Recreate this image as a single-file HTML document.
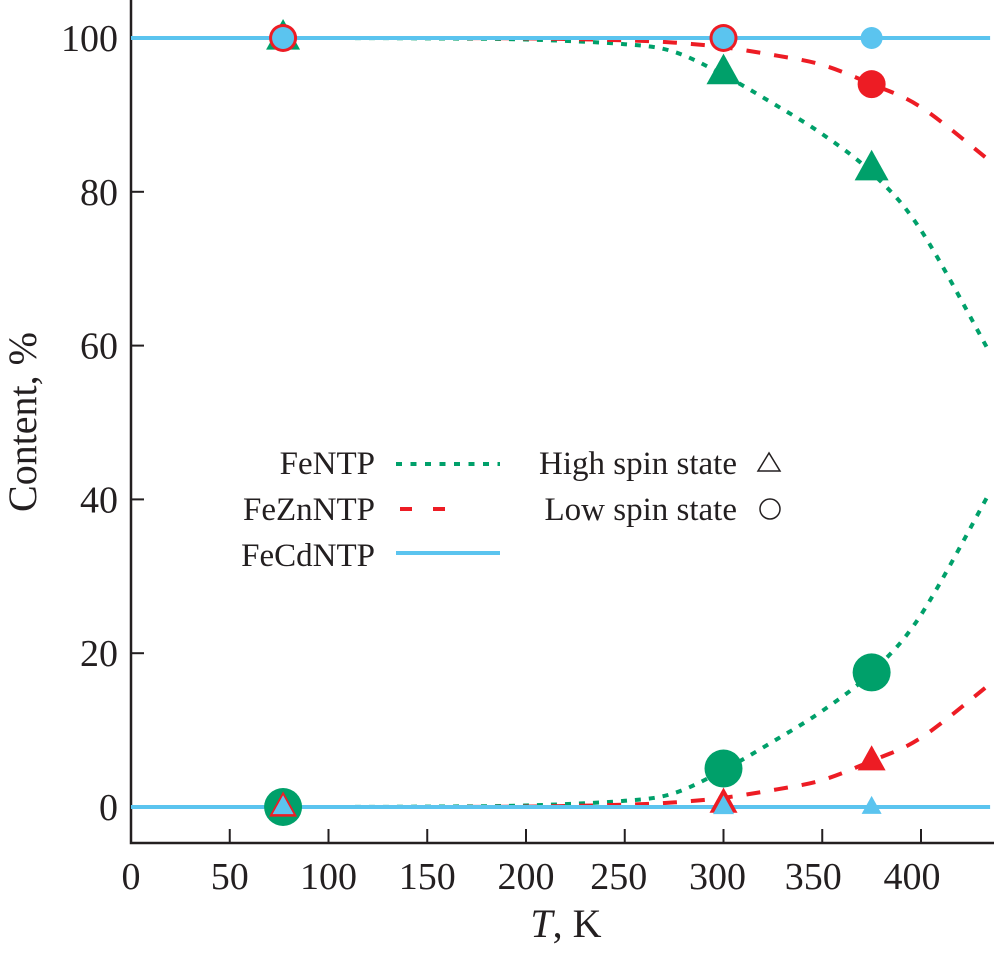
<!DOCTYPE html>
<html><head><meta charset="utf-8"><style>
body{margin:0;background:#fff}
svg text{font-family:"Liberation Serif",serif;fill:#231f20}
</style></head><body>
<svg id="chart" width="994" height="953" viewBox="0 0 994 953" xmlns="http://www.w3.org/2000/svg">
<g id="axes"></g><g id="curves"></g><g id="markers"></g><g id="legend"></g>
</svg>
<script>
const xTicks=[0,50,100,150,200,250,300,350,400];
const yTicks=[0,20,40,60,80,100];
const curveT=[0,50,100,150,200,250,275,300,325,350,375,400,435];
const feHS=[0,0,0,0.05,0.2,0.8,1.8,4.8,8.5,12.5,17.5,25,41];
const feZnHS=[0,0,0,0,0.05,0.3,0.6,1.2,2.2,3.5,6,9,16];
const feCdHS=[0,0,0,0,0,0,0,0,0,0,0,0,0];
const markT=[77,300,375];
const feTop=[100,95.5,83];
const feBot=[0,5,17.5];
const znTop=[100,100,94];
const znBot=[0,0.5,6];
const cdTop=[100,100,100];
const cdBot=[0,0,0];
const NS="http://www.w3.org/2000/svg";
const X=t=>131+t*1.975;
const Y=v=>807-v*7.69;
function mk(tag,attrs,parent){const e=document.createElementNS(NS,tag);for(const k in attrs)e.setAttribute(k,attrs[k]);parent.appendChild(e);return e;}
const axes=document.getElementById('axes');
let a=mk('path',{d:'M131 0V843H994',fill:'none',stroke:'#231f20','stroke-width':2.5},axes);


xTicks.forEach(t=>{
 let l=mk('line',{x1:X(t),x2:X(t),y1:843,y2:829,stroke:'#231f20','stroke-width':2},axes);
 
 
 let tx=mk('text',{x:X(t)-(t>=250?6:0)-(t>=350?3:0),y:889,'font-size':38,'text-anchor':'middle'},axes);tx.textContent=t;
 
 
});
yTicks.forEach(v=>{
 let l=mk('line',{x1:131,x2:144,y1:Y(v),y2:Y(v),stroke:'#231f20','stroke-width':2},axes);
 
 
 let tx=mk('text',{x:118,y:Y(v)+13,'font-size':38,'text-anchor':'end'},axes);tx.textContent=v;
 
 
});
let yl=mk('text',{x:0,y:0,'font-size':40,'text-anchor':'middle',transform:'translate(36,422) rotate(-90)'},axes);yl.textContent='Content, %';


let xl=mk('text',{x:566,y:937,'font-size':40,'text-anchor':'middle'},axes);
xl.innerHTML='<tspan font-style="italic">T</tspan>, K';


const curves=document.getElementById('curves');
function smooth(pts){let d='M'+pts[0][0].toFixed(1)+' '+pts[0][1].toFixed(1);
 for(let i=0;i<pts.length-1;i++){const p0=pts[i-1]||pts[i],p1=pts[i],p2=pts[i+1],p3=pts[i+2]||p2;
  const c1=[p1[0]+(p2[0]-p0[0])/6,p1[1]+(p2[1]-p0[1])/6],c2=[p2[0]-(p3[0]-p1[0])/6,p2[1]-(p3[1]-p1[1])/6];
  d+=`C${c1[0].toFixed(1)} ${c1[1].toFixed(1)} ${c2[0].toFixed(1)} ${c2[1].toFixed(1)} ${p2[0].toFixed(1)} ${p2[1].toFixed(1)}`;}
 return d;}
function line(vals,color,dash,name,flip){
 const pts=curveT.map((t,i)=>[X(t),Y(flip?100-vals[i]:vals[i])]);
 const p=mk('path',{d:smooth(pts),fill:'none',stroke:color,'stroke-width':4,'stroke-dasharray':dash},curves);
 
 
}
const G='#00a06a',R='#ed1c24',C='#5bc4ef';
line(feHS,G,'6 8','fentp-low-curve',false);line(feHS,G,'6 8','fentp-high-curve',true);
line(feZnHS,R,'14 14','fezn-low-curve',false);line(feZnHS,R,'14 14','fezn-high-curve',true);
line(feCdHS,C,'','fecd-low-curve',false);line(feCdHS,C,'','fecd-high-curve',true);
const mg=document.getElementById('markers');
function tri(x,y,s,fill,stroke,name){const h=s*0.9;const p=mk('polygon',{points:`${x},${y-h*0.62} ${x-s/2},${y+h*0.38} ${x+s/2},${y+h*0.38}`,fill:fill,stroke:stroke||'none','stroke-width':2.5},mg);
 
 }
function circ(x,y,r,fill,stroke,name){const c=mk('circle',{cx:x,cy:y,r:r,fill:fill,stroke:stroke||'none','stroke-width':3},mg);
 
 }
markT.forEach((t,i)=>{tri(X(t),Y(feTop[i]),34,G,null,'fentp-hs-marker');circ(X(t),Y(feBot[i]),19,G,null,'fentp-ls-marker');});
markT.forEach((t,i)=>{circ(X(t),Y(znTop[i]),14,R,null,'fezn-ls-marker');tri(X(t),Y(znBot[i]),28,R,null,'fezn-hs-marker');});
markT.forEach((t,i)=>{circ(X(t),Y(cdTop[i]),11,C,null,'fecd-ls-marker');tri(X(t),Y(cdBot[i]),i<2?21:20,C,null,'fecd-hs-marker');});
const lg=document.getElementById('legend');
function ltext(x,y,s,name){const t=mk('text',{x:x,y:y,'font-size':33,'text-anchor':'end'},lg);t.textContent=s;
 
 }
ltext(375,474,'FeNTP','legend-fentp-label');ltext(375,520,'FeZnNTP','legend-fezn-label');ltext(375,566,'FeCdNTP','legend-fecd-label');
ltext(737,474,'High spin state','legend-high-spin-label');ltext(737,520,'Low spin state','legend-low-spin-label');
let l1=mk('line',{x1:396,x2:500,y1:464,y2:464,stroke:G,'stroke-width':4,'stroke-dasharray':'6 8.5'},lg);


let l2=mk('line',{x1:400,x2:466,y1:509,y2:509,stroke:R,'stroke-width':4,'stroke-dasharray':'12 21'},lg);


let l3=mk('line',{x1:396,x2:500,y1:553,y2:553,stroke:C,'stroke-width':4},lg);


let s1=mk('polygon',{points:'769,453 758,471 780,471',fill:'none',stroke:'#231f20','stroke-width':1.5},lg);


let s2=mk('circle',{cx:770,cy:509,r:10,fill:'none',stroke:'#231f20','stroke-width':1.5},lg);


</script>
</body></html>
